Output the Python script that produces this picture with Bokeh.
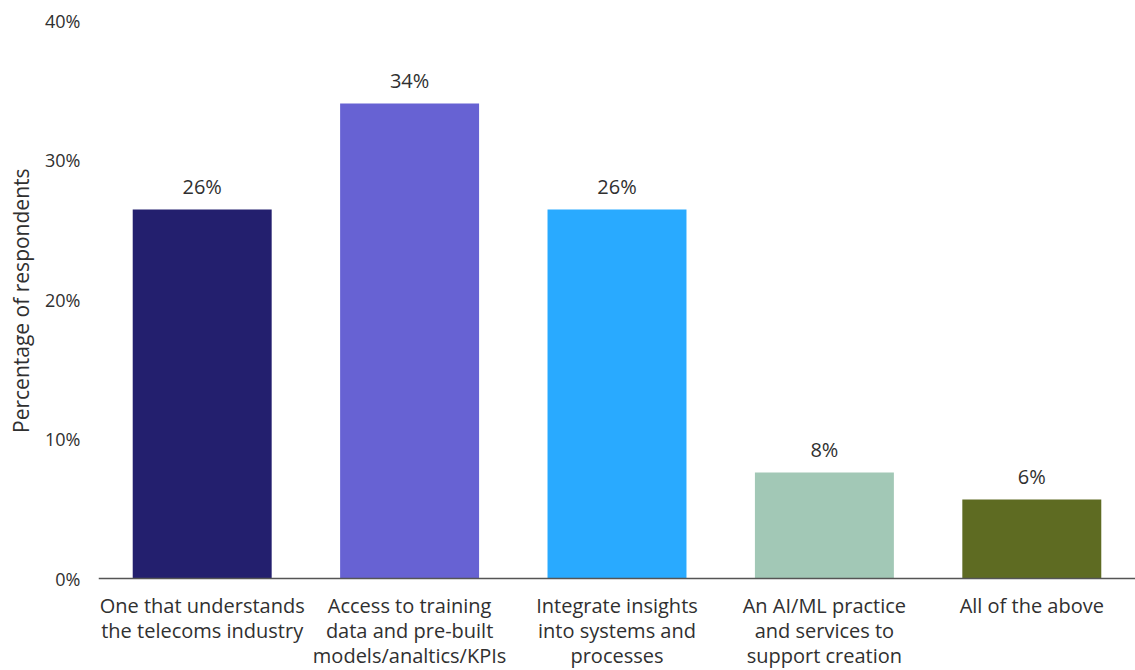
from bokeh.plotting import figure
from bokeh.models import ColumnDataSource, FactorRange, Range1d, FixedTicker, CustomJSTickFormatter, Span, Title
from bokeh.core.properties import value
from bokeh.embed import file_html
from bokeh.resources import INLINE

categories = [
    "One that understands\nthe telecoms industry",
    "Access to training\ndata and pre-built\nmodels/analtics/KPIs",
    "Integrate insights\ninto systems and\nprocesses",
    "An AI/ML practice\nand services to\nsupport creation",
    "All of the above",
]
values = [26.45, 34.05, 26.45, 7.6, 5.66]
value_labels = ["26%", "34%", "26%", "8%", "6%"]
colors = ["#231F6E", "#6762D3", "#29AAFF", "#A2C8B6", "#5E6B22"]
y_ticks = [0, 10, 20, 30, 40]
y_max = 40
y_title = "Percentage of respondents"

FONT = "Open Sans"
TXT = "#303030"

W, H = 1135, 670
TOP, LEFT = 20, 98
ZERO_PX = 578  # pixel row of the 0% baseline
px_per_unit = (ZERO_PX - TOP) / y_max
y_min = -(H - ZERO_PX) / px_per_unit

src = ColumnDataSource(dict(cat=categories, val=values, lab=value_labels, col=colors,
                            zero=[0] * len(categories)))

p = figure(width=W, height=H, x_range=FactorRange(*categories, range_padding=0),
           y_range=Range1d(y_min, y_max), output_backend="svg", toolbar_location=None,
           min_border_left=LEFT, min_border_right=0, min_border_top=TOP, min_border_bottom=0)

p.vbar(x="cat", top="val", bottom=0, width=0.67, fill_color="col", line_color=None, source=src)
p.text(x="cat", y="val", text="lab", source=src, text_align="center", text_baseline="alphabetic",
       y_offset=-23, text_font=value(FONT), text_font_size="20px", text_color=TXT)

# category labels under the baseline
p.text(x="cat", y="zero", text="cat", source=src, text_align="center", text_baseline="top",
       y_offset=13, text_font=value(FONT), text_font_size="20px", text_color=TXT,
       text_line_height=0.94)

p.add_layout(Span(location=0, dimension="width", line_color="#555555", line_width=1.5))

p.outline_line_color = None
p.xgrid.grid_line_color = None
p.ygrid.grid_line_color = None
p.xaxis.visible = False

p.yaxis.ticker = FixedTicker(ticks=y_ticks)
p.yaxis.formatter = CustomJSTickFormatter(code="return tick + '%';")
p.yaxis.axis_line_color = None
p.yaxis.major_tick_line_color = None
p.yaxis.minor_tick_line_color = None
p.yaxis.major_tick_out = 0
p.yaxis.major_tick_in = 0
p.yaxis.major_label_text_font = FONT
p.yaxis.major_label_text_font_size = "18px"
p.yaxis.major_label_text_color = TXT
p.yaxis.major_label_standoff = 18

ytitle = Title(text=y_title, align="right", offset=148, vertical_align="top",
               text_font=FONT, text_font_size="21px",
               text_font_style="normal", text_color=TXT, standoff=12)
p.add_layout(ytitle, "left")

open("out.html", "w").write(file_html(p, INLINE))
